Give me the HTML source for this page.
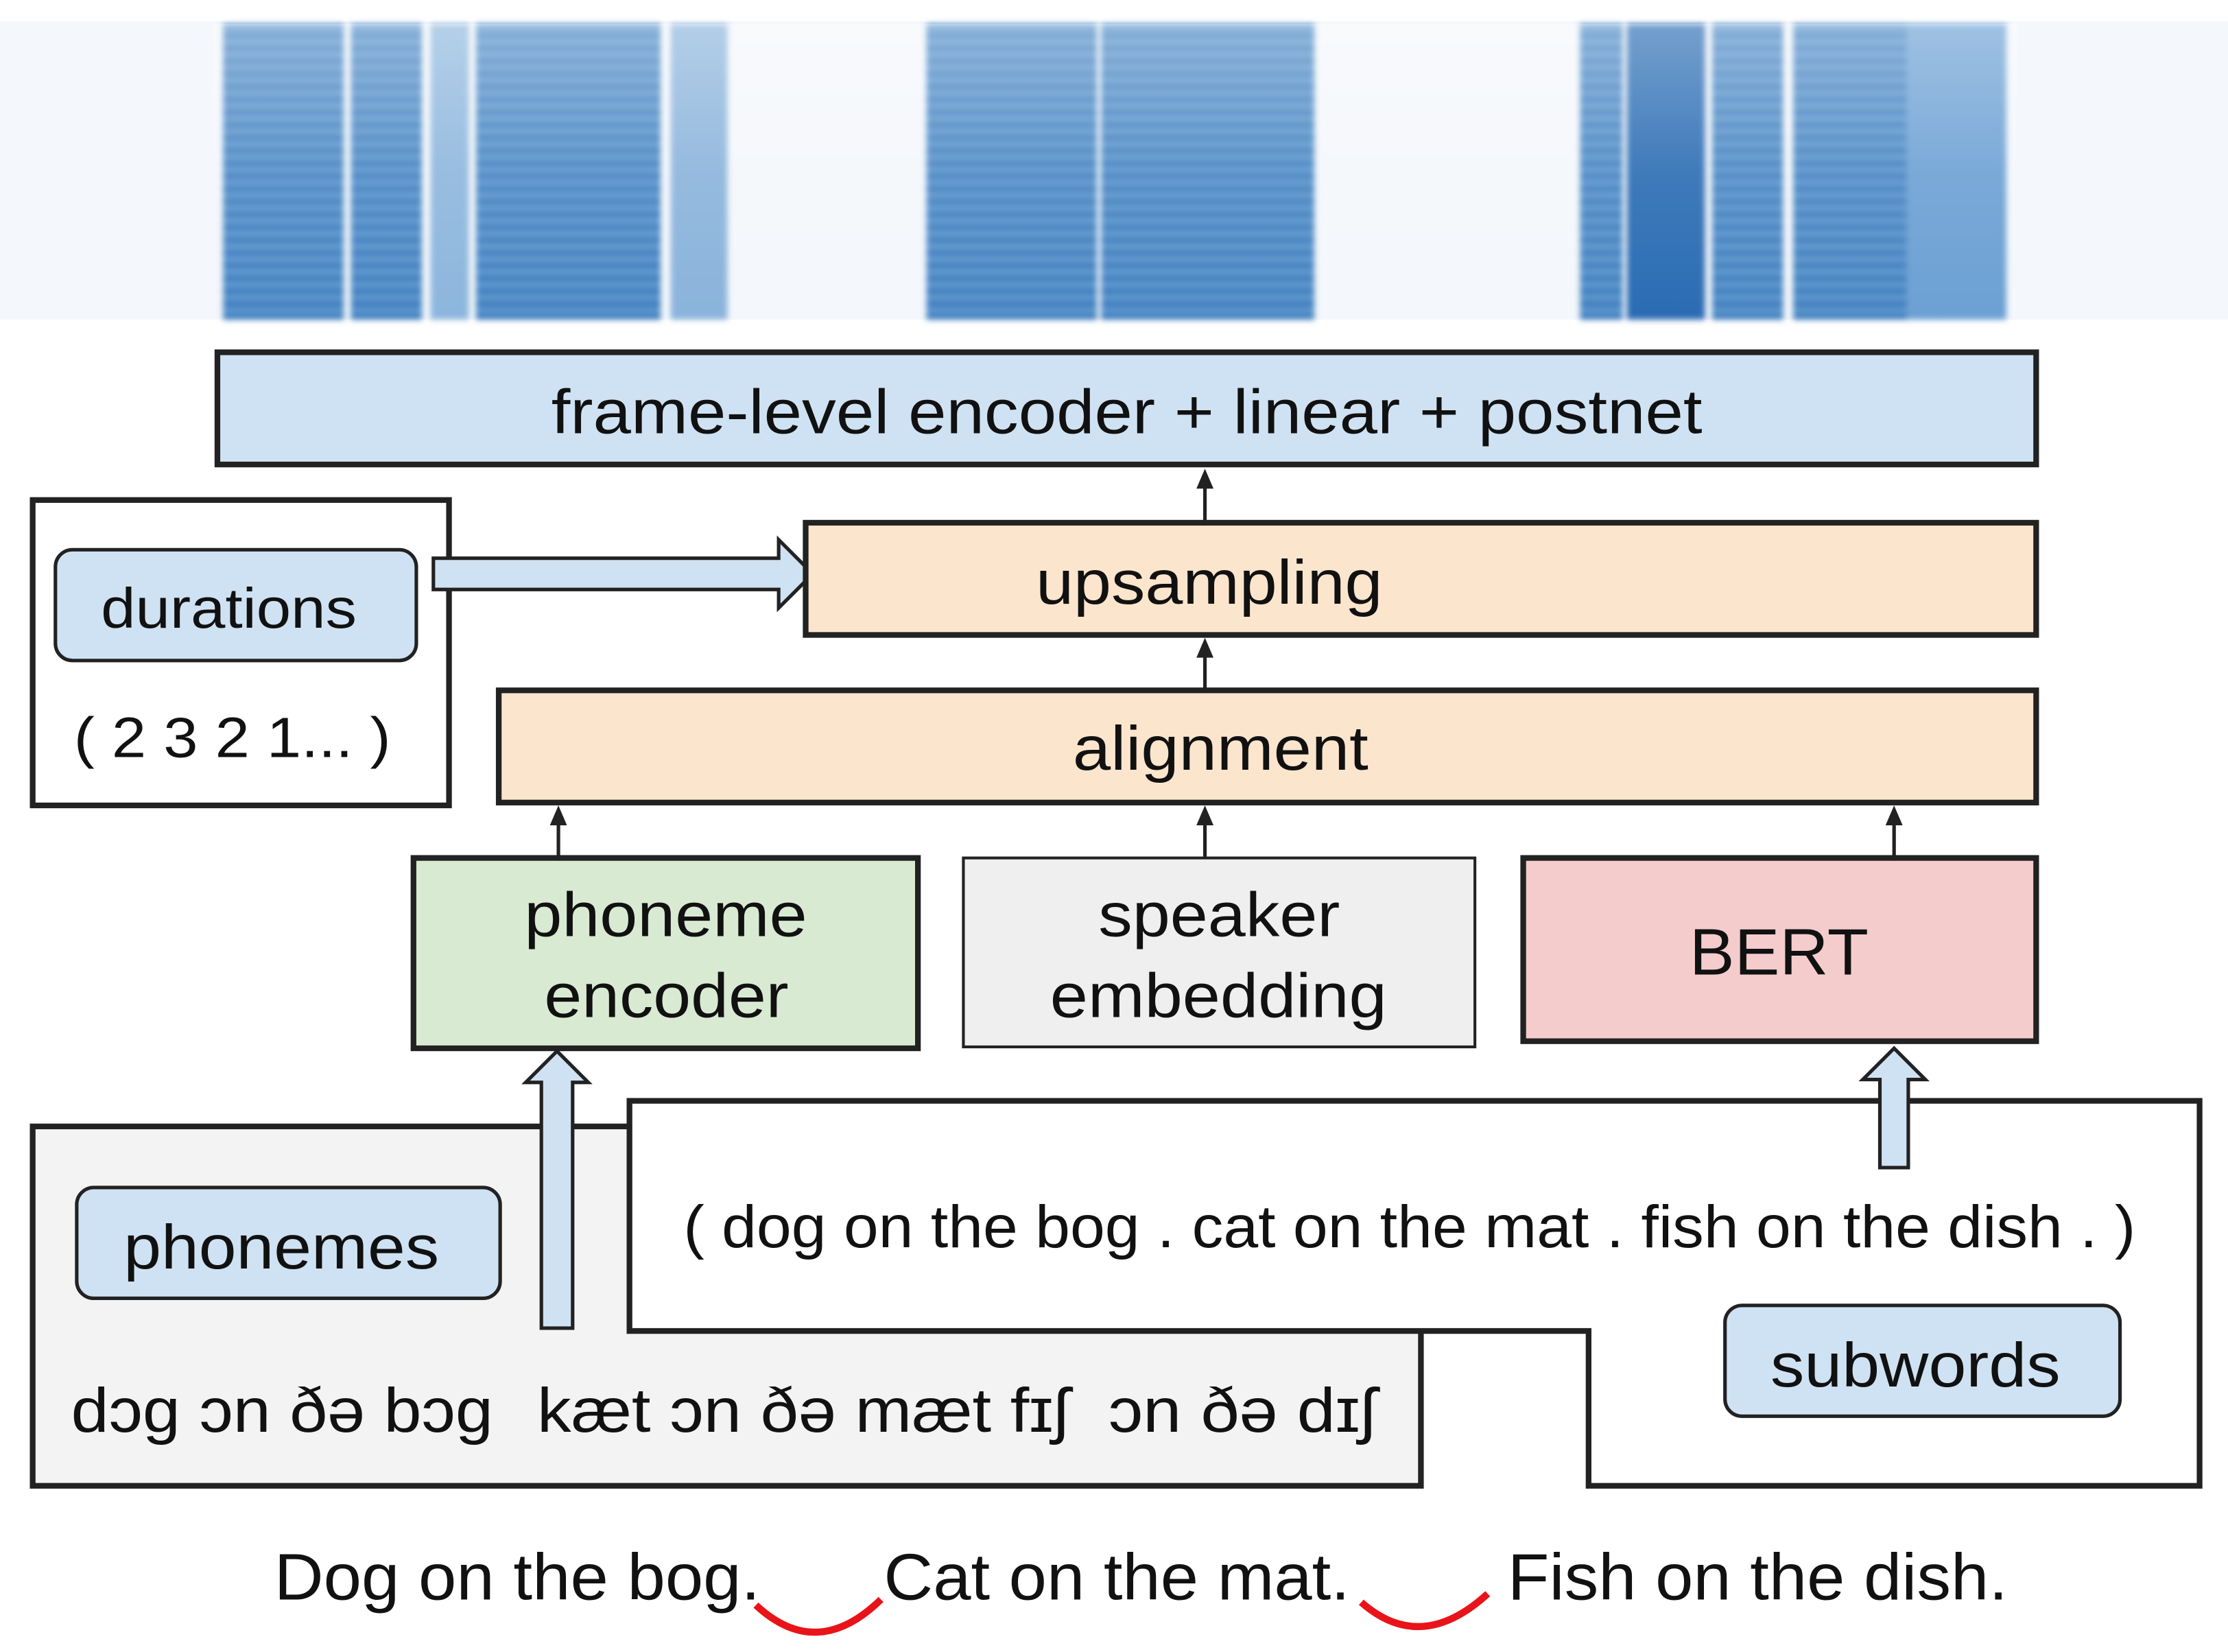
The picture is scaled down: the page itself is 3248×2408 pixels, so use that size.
<!DOCTYPE html>
<html><head><meta charset="utf-8"><style>
html,body{margin:0;padding:0;background:#fff;}
svg{display:block;}
text{font-family:"Liberation Sans","DejaVu Sans",sans-serif;fill:#111;}
</style></head><body>
<svg width="3248" height="2408" viewBox="0 0 1568 1163" preserveAspectRatio="none" xmlns="http://www.w3.org/2000/svg">
<defs>
<pattern id="hs" width="10" height="9" patternUnits="userSpaceOnUse">
<rect width="10" height="9" fill="#5a95cc"/><rect y="5" width="10" height="4" fill="#3a7bbd"/>
</pattern>
<linearGradient id="vg" x1="0" y1="0" x2="0" y2="1">
<stop offset="0" stop-color="#fff" stop-opacity="0.35"/><stop offset="0.5" stop-color="#fff" stop-opacity="0.1"/><stop offset="1" stop-color="#fff" stop-opacity="0"/>
</linearGradient>
<filter id="bl"><feGaussianBlur stdDeviation="2"/></filter>
</defs>
<rect x="0" y="15" width="1568" height="210" fill="#f4f7fb"/>
<g filter="url(#bl)">
<rect x="157" y="17" width="85" height="208" fill="url(#hs)"/>
<rect x="247" y="17" width="50" height="208" fill="url(#hs)"/>
<rect x="303" y="17" width="27" height="208" fill="#8db6dd"/>
<rect x="335" y="17" width="130" height="208" fill="url(#hs)"/>
<rect x="472" y="17" width="40" height="208" fill="#6fa2d3" opacity="0.8"/>
<rect x="652" y="17" width="120" height="208" fill="url(#hs)"/>
<rect x="775" y="17" width="150" height="208" fill="url(#hs)"/>
<rect x="1112" y="17" width="30" height="208" fill="url(#hs)"/>
<rect x="1145" y="17" width="55" height="208" fill="#2a6cb3"/>
<rect x="1205" y="17" width="50" height="208" fill="url(#hs)"/>
<rect x="1262" y="17" width="80" height="208" fill="url(#hs)"/>
<rect x="1342" y="17" width="70" height="208" fill="#5c97cf" opacity="0.9"/>
</g>
<rect x="150" y="17" width="1270" height="208" fill="url(#vg)"/>

<rect x="153" y="248" width="1280" height="79" fill="#cfe2f3" stroke="#222" stroke-width="4"/>
<text x="388" y="305" font-size="44" textLength="810" lengthAdjust="spacingAndGlyphs">frame-level encoder + linear + postnet</text>

<rect x="23" y="352" width="293" height="215" fill="#fff" stroke="#222" stroke-width="4"/>
<rect x="39" y="387" width="254" height="78" rx="12" fill="#cfe2f3" stroke="#222" stroke-width="2.5"/>
<text x="71" y="442" font-size="40" textLength="180" lengthAdjust="spacingAndGlyphs">durations</text>
<text x="52" y="533" font-size="40" textLength="223" lengthAdjust="spacingAndGlyphs">( 2 3 2 1... )</text>
<polygon points="305,393 548,393 548,380 572,404 548,428 548,415 305,415" fill="#cfe2f3" stroke="#222" stroke-width="2.5"/>

<rect x="567" y="368" width="866" height="79" fill="#fce5cd" stroke="#222" stroke-width="4"/>
<text x="729" y="425" font-size="44" textLength="244" lengthAdjust="spacingAndGlyphs">upsampling</text>

<rect x="351" y="486" width="1082" height="79" fill="#fce5cd" stroke="#222" stroke-width="4"/>
<text x="755" y="542" font-size="44" textLength="208" lengthAdjust="spacingAndGlyphs">alignment</text>

<g stroke="#222" stroke-width="2.5" fill="#222">
<line x1="848" y1="368" x2="848" y2="340"/><polygon points="842,344 854,344 848,330" stroke="none"/>
<line x1="848" y1="486" x2="848" y2="460"/><polygon points="842,463 854,463 848,449" stroke="none"/>
<line x1="393" y1="603" x2="393" y2="578"/><polygon points="387,581 399,581 393,567" stroke="none"/>
<line x1="848" y1="603" x2="848" y2="578"/><polygon points="842,581 854,581 848,567" stroke="none"/>
<line x1="1333" y1="603" x2="1333" y2="578"/><polygon points="1327,581 1339,581 1333,567" stroke="none"/>
</g>

<rect x="291" y="604" width="355" height="134" fill="#d9ead3" stroke="#222" stroke-width="4"/>
<text x="369" y="659" font-size="44" textLength="199" lengthAdjust="spacingAndGlyphs">phoneme</text>
<text x="383" y="716" font-size="44" textLength="172" lengthAdjust="spacingAndGlyphs">encoder</text>
<rect x="678" y="604" width="360" height="133" fill="#efefef" stroke="#222" stroke-width="2"/>
<text x="773" y="659" font-size="44" textLength="170" lengthAdjust="spacingAndGlyphs">speaker</text>
<text x="739" y="716" font-size="44" textLength="237" lengthAdjust="spacingAndGlyphs">embedding</text>
<rect x="1072" y="604" width="361" height="129" fill="#f4cccc" stroke="#222" stroke-width="4"/>
<text x="1189" y="686" font-size="46" textLength="126" lengthAdjust="spacingAndGlyphs">BERT</text>

<rect x="23" y="793" width="977" height="253" fill="#f3f3f3" stroke="#222" stroke-width="4"/>
<polygon points="443,775 1548,775 1548,1046 1118,1046 1118,937 443,937" fill="#fff" stroke="#222" stroke-width="4"/>
<rect x="54" y="836" width="298" height="78" rx="12" fill="#cfe2f3" stroke="#222" stroke-width="2.5"/>
<text x="87" y="893" font-size="44" textLength="222" lengthAdjust="spacingAndGlyphs">phonemes</text>
<text x="50" y="1008" font-size="44" textLength="297" lengthAdjust="spacingAndGlyphs">dɔg ɔn ðə bɔg</text>
<text x="378" y="1008" font-size="44" textLength="374" lengthAdjust="spacingAndGlyphs">kæt ɔn ðə mæt fɪʃ</text>
<text x="780" y="1008" font-size="44" textLength="188" lengthAdjust="spacingAndGlyphs">ɔn ðə dɪʃ</text>
<polygon points="381,935 381,762 370,762 392,740 414,762 403,762 403,935" fill="#cfe2f3" stroke="#222" stroke-width="2.5"/>

<text x="481" y="878" font-size="42" textLength="1022" lengthAdjust="spacingAndGlyphs">( dog on the bog . cat on the mat . fish on the dish . )</text>
<rect x="1214" y="919" width="278" height="78" rx="12" fill="#cfe2f3" stroke="#222" stroke-width="2.5"/>
<text x="1246" y="976" font-size="44" textLength="204" lengthAdjust="spacingAndGlyphs">subwords</text>
<polygon points="1323,822 1323,760 1311,760 1333,738 1355,760 1343,760 1343,822" fill="#cfe2f3" stroke="#222" stroke-width="2.5"/>

<text x="193" y="1126" font-size="46" textLength="342" lengthAdjust="spacingAndGlyphs">Dog on the bog.</text>
<text x="622" y="1126" font-size="46" textLength="328" lengthAdjust="spacingAndGlyphs">Cat on the mat.</text>
<text x="1061" y="1126" font-size="46" textLength="352" lengthAdjust="spacingAndGlyphs">Fish on the dish.</text>
<path d="M532,1130 Q575,1170 620,1126" fill="none" stroke="#e8141a" stroke-width="5"/>
<path d="M958,1128 Q1000,1165 1047,1122" fill="none" stroke="#e8141a" stroke-width="5"/>
</svg>
</body></html>
